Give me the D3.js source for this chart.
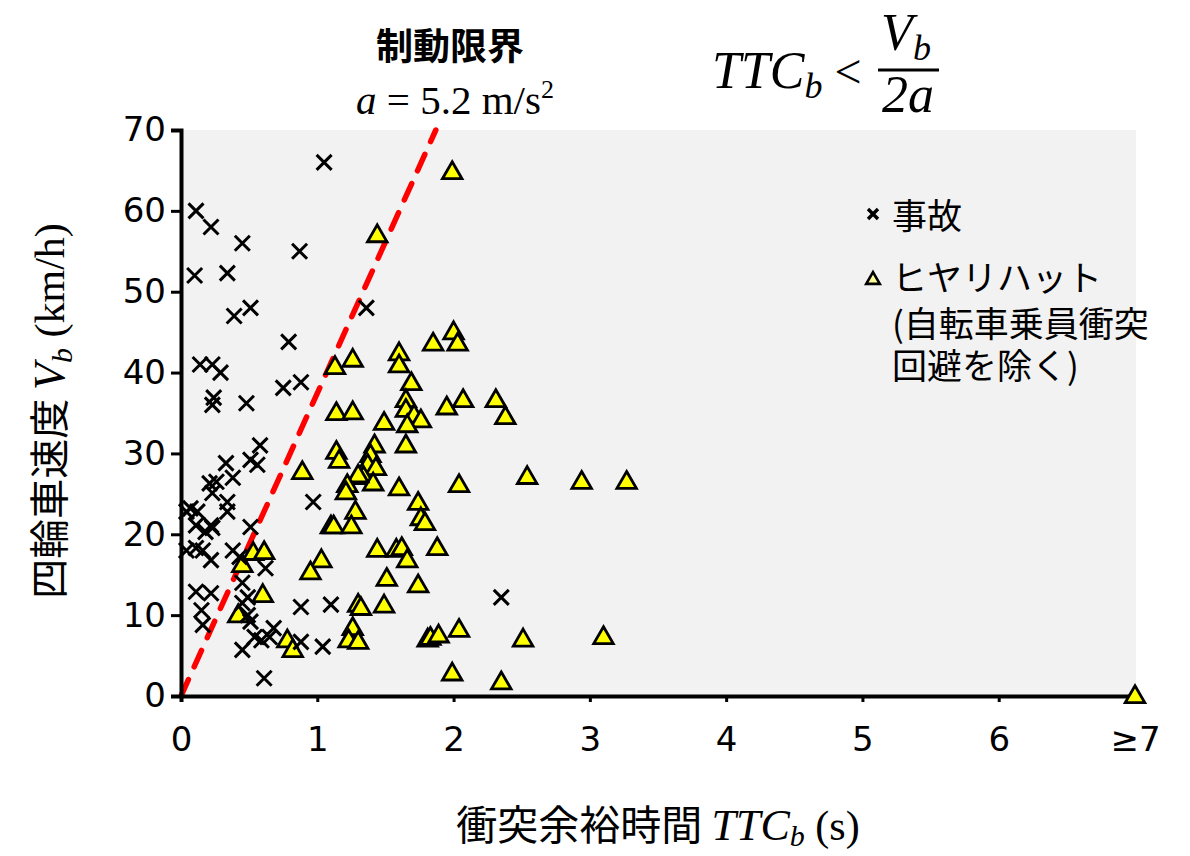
<!DOCTYPE html>
<html>
<head>
<meta charset="utf-8">
<script src="https://cdn.jsdelivr.net/npm/d3@7"></script>
<style>
  html, body { margin: 0; padding: 0; background: #ffffff; }
  svg { display: block; }
</style>
</head>
<body>
<svg id="chart" width="1190" height="856"></svg>
<script>
// Accident cases: [TTC_b (s), V_b (km/h)]
const accidents = [
  [1.05, 66], [0.11, 60], [0.22, 58], [0.45, 56], [0.87, 55], [0.10, 52], [0.34, 52.3],
  [0.51, 48], [0.39, 47], [1.36, 48], [0.79, 43.8], [0.14, 41], [0.23, 41], [0.29, 40],
  [0.75, 38.1], [0.88, 38.8], [0.24, 36.9], [0.23, 36.0], [0.48, 36.2], [0.58, 31.0],
  [0.33, 28.8], [0.51, 29.2], [0.56, 28.6], [0.21, 26.3], [0.26, 26.5], [0.38, 27.0],
  [0.23, 25.1], [0.34, 24.0], [0.34, 22.8], [0.07, 23.2], [0.04, 22.8], [0.12, 22.8],
  [0.11, 21.1], [0.22, 21.1], [0.23, 20.8], [0.18, 20.3], [0.51, 20.9], [0.04, 18.0],
  [0.11, 18.3], [0.16, 18.0], [0.22, 16.8], [0.38, 18.0], [0.43, 17.2], [0.97, 24.0],
  [0.62, 15.8], [0.11, 12.9], [0.22, 12.7], [0.45, 14.0], [0.49, 12.2], [0.15, 10.6],
  [0.16, 8.8], [0.45, 11.5], [0.49, 10.0], [0.51, 9.2], [0.54, 7.3], [0.59, 6.9],
  [0.65, 7.3], [0.68, 8.4], [0.45, 5.7], [0.88, 11.0], [1.10, 11.3], [0.88, 6.7],
  [1.04, 6.1], [0.61, 2.2], [2.35, 12.2]
];

// Near-miss cases (excluding cyclist avoidance): [TTC_b (s), V_b (km/h)]
const nearMisses = [
  [1.99, 64.8], [1.44, 57.0], [2.00, 45.0], [2.03, 43.6], [1.85, 43.6], [1.60, 42.4],
  [1.60, 40.9], [1.13, 40.7], [1.26, 41.6], [1.69, 38.7], [1.65, 36.6], [1.65, 35.4],
  [1.71, 34.7], [1.76, 34.1], [1.66, 33.5], [1.95, 35.7], [2.07, 36.6], [2.31, 36.6],
  [2.38, 34.5], [1.49, 33.8], [1.14, 35.0], [1.26, 35.1], [1.65, 31.0], [1.42, 31.0],
  [1.39, 29.8], [1.37, 28.6], [1.43, 28.2], [1.34, 27.1], [1.41, 26.3], [2.04, 26.1],
  [2.54, 27.1], [1.60, 25.7], [1.74, 23.9], [1.76, 22.0], [1.79, 21.4], [0.89, 27.7],
  [1.14, 30.2], [1.16, 29.1], [1.30, 27.3], [1.22, 26.1], [1.21, 25.2], [1.28, 22.8],
  [1.10, 21.0], [1.12, 21.0], [1.25, 21.0], [1.44, 18.1], [1.58, 18.1], [1.62, 18.3],
  [1.66, 16.8], [1.88, 18.3], [1.03, 16.8], [0.95, 15.3], [1.51, 14.5], [1.74, 13.7],
  [1.30, 11.3], [1.32, 10.9], [1.49, 11.2], [1.26, 8.4], [1.23, 6.9], [1.30, 6.7],
  [1.81, 7.0], [1.83, 7.2], [1.89, 7.5], [2.04, 8.2], [2.51, 7.0], [1.99, 2.8],
  [2.35, 1.7], [0.78, 6.9], [0.82, 5.7], [0.53, 17.7], [0.61, 17.8], [0.45, 16.2],
  [0.60, 12.5], [0.42, 10.0], [2.94, 26.5], [3.27, 26.5], [3.10, 7.3], [7, 0]
];

const xTicks = [0, 1, 2, 3, 4, 5, 6, 7];
const xTickLabels = ["0", "1", "2", "3", "4", "5", "6", "≥7"];
const yTicks = [0, 10, 20, 30, 40, 50, 60, 70];

// Braking limit: V_b = 2 a TTC_b, with a = 5.2 m/s^2, V in km/h
const decel = 5.2;
const limitLine = [[0, 0], [70 / (2 * decel * 3.6), 70]];

const svg = d3.select("#chart");
const x = d3.scaleLinear().domain([0, 7]).range([181, 1135]);
const y = d3.scaleLinear().domain([0, 70]).range([696, 130]);

const numFont = "'DejaVu Sans', Verdana, sans-serif";
const jpFont = "'Noto Sans CJK JP', sans-serif";
const mathFont = "'Liberation Serif', 'DejaVu Serif', serif";

// Plot background
svg.append("rect")
  .attr("x", x(0)).attr("y", y(70))
  .attr("width", x(7) - x(0) + 1).attr("height", y(0) - y(70))
  .attr("fill", "#f2f2f2");

// Braking-limit dashed line
svg.append("path")
  .datum(limitLine)
  .attr("d", d3.line().x(d => x(d[0])).y(d => y(d[1])))
  .attr("fill", "none")
  .attr("stroke", "#ff0000")
  .attr("stroke-width", 5.5)
  .attr("stroke-linecap", "round")
  .attr("stroke-dasharray", "18 14");

// Axes
const yAxis = svg.append("g")
  .attr("transform", `translate(${x(0)},0)`)
  .call(d3.axisLeft(y).tickValues(yTicks).tickSize(10).tickPadding(8));
yAxis.select(".domain").attr("stroke", "#000").attr("stroke-width", 4);
yAxis.selectAll(".tick line").attr("stroke", "#000").attr("stroke-width", 3);
yAxis.selectAll(".tick text")
  .attr("font-family", numFont).attr("font-size", 34).attr("fill", "#000")
  .attr("x", -15);

const xAxis = svg.append("g")
  .attr("transform", `translate(0,${y(0)})`)
  .call(d3.axisBottom(x).tickValues(xTicks).tickSize(6).tickPadding(25)
    .tickFormat((d, i) => xTickLabels[i]));
xAxis.select(".domain").attr("stroke", "#000").attr("stroke-width", 4);
xAxis.selectAll(".tick line").attr("stroke", "#000").attr("stroke-width", 3);
xAxis.selectAll(".tick text")
  .attr("font-family", numFont).attr("font-size", 34).attr("fill", "#000");

// Near-miss markers
const tri = d3.symbol().type(d3.symbolTriangle).size(165);
svg.append("g").selectAll("path")
  .data(nearMisses)
  .join("path")
  .attr("d", tri)
  .attr("transform", d => `translate(${x(d[0])},${y(d[1]) + 1})`)
  .attr("fill", "#ffff00")
  .attr("stroke", "#000")
  .attr("stroke-width", 2.8)
  .attr("stroke-linejoin", "miter");

// Accident markers
const cs = 7.5;
const crossPath = `M${-cs},${-cs}L${cs},${cs}M${-cs},${cs}L${cs},${-cs}`;
svg.append("g").selectAll("path")
  .data(accidents)
  .join("path")
  .attr("d", crossPath)
  .attr("transform", d => `translate(${x(d[0])},${y(d[1])})`)
  .attr("fill", "none")
  .attr("stroke", "#000")
  .attr("stroke-width", 3);

// Legend
const lg = svg.append("g");
lg.append("path")
  .attr("d", "M-5,-5L5,5M-5,5L5,-5")
  .attr("transform", "translate(873,214)")
  .attr("stroke", "#000").attr("stroke-width", 3.4).attr("fill", "none");
lg.append("text").attr("x", 892).attr("y", 229)
  .attr("font-family", jpFont).attr("font-size", 35).text("事故");
lg.append("path")
  .attr("d", d3.symbol().type(d3.symbolTriangle).size(80))
  .attr("transform", "translate(873,280)")
  .attr("fill", "#ffff99").attr("stroke", "#000").attr("stroke-width", 2.6);
// Near-miss legend label: one multi-line text block
const lgLines = ["ヒヤリハット", "(自転車乗員衝突", "回避を除く)"];
const lgDy = [0, 46, 42];
lg.append("text")
  .attr("x", 892).attr("y", 291)
  .attr("font-family", jpFont).attr("font-size", 35)
  .selectAll("tspan")
  .data(lgLines)
  .join("tspan")
  .attr("x", 892)
  .attr("dy", (d, i) => lgDy[i])
  .text(d => d);

// Y-axis title
const yt = svg.append("text")
  .attr("transform", "translate(64,411) rotate(-90)")
  .attr("text-anchor", "middle")
  .attr("font-size", 40).attr("fill", "#000");
yt.append("tspan").attr("font-family", jpFont).text("四輪車速度 ");
yt.append("tspan").attr("font-family", mathFont).attr("font-style", "italic").attr("font-size", 44).text("V");
yt.append("tspan").attr("font-family", mathFont).attr("font-style", "italic").attr("font-size", 30).attr("dy", 8).text("b");
yt.append("tspan").attr("font-family", mathFont).attr("font-size", 42).attr("dy", -8).text(" (km/h)");

// X-axis title
const xt = svg.append("text")
  .attr("x", 658).attr("y", 840)
  .attr("text-anchor", "middle")
  .attr("font-size", 41).attr("fill", "#000");
xt.append("tspan").attr("font-family", jpFont).text("衝突余裕時間 ");
xt.append("tspan").attr("font-family", mathFont).attr("font-style", "italic").attr("font-size", 44).text("TTC");
xt.append("tspan").attr("font-family", mathFont).attr("font-style", "italic").attr("font-size", 30).attr("dy", 6).text("b");
xt.append("tspan").attr("font-family", mathFont).attr("font-size", 42).attr("dy", -6).text(" (s)");

// Braking-limit annotation
svg.append("text")
  .attr("x", 450).attr("y", 60)
  .attr("text-anchor", "middle")
  .attr("font-family", jpFont).attr("font-weight", "bold").attr("font-size", 37)
  .text("制動限界");
const at = svg.append("text")
  .attr("x", 455).attr("y", 114)
  .attr("text-anchor", "middle")
  .attr("font-family", mathFont).attr("font-size", 41);
at.append("tspan").attr("font-style", "italic").text("a");
at.append("tspan").text(" = 5.2 m/s");
at.append("tspan").attr("font-size", 26).attr("dy", -16).text("2");

// Condition formula
const fm = svg.append("g").attr("font-family", mathFont).attr("font-size", 52).attr("font-style", "italic");
const ft = fm.append("text").attr("x", 712).attr("y", 88);
ft.append("tspan").text("TTC");
ft.append("tspan").attr("font-size", 36).attr("dy", 10).text("b");
ft.append("tspan").attr("dy", -10).attr("font-style", "normal").attr("font-size", 48).text(" <");
fm.append("line")
  .attr("x1", 878).attr("x2", 939).attr("y1", 70).attr("y2", 70)
  .attr("stroke", "#000").attr("stroke-width", 3);
const num = fm.append("text").attr("x", 906).attr("y", 50).attr("text-anchor", "middle");
num.append("tspan").text("V");
num.append("tspan").attr("font-size", 36).attr("dy", 10).text("b");
fm.append("text").attr("x", 908).attr("y", 112).attr("text-anchor", "middle")
  .text("2a");
</script>
</body>
</html>
